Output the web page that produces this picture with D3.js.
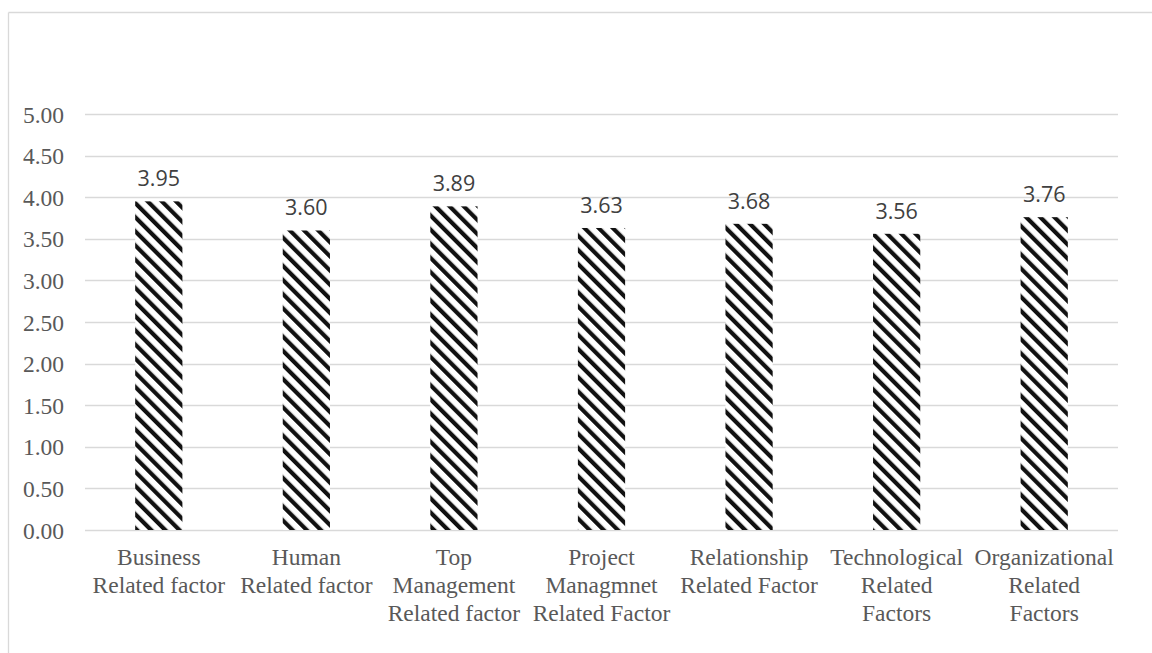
<!DOCTYPE html>
<html>
<head>
<meta charset="utf-8">
<script src="https://cdn.jsdelivr.net/npm/d3@7"></script>
<style>
  body { margin: 0; background: #fff; }
  svg { display: block; }
  .serif { font-family: "Liberation Serif", "DejaVu Serif", "Times New Roman", Times, serif; }
</style>
</head>
<body>
<svg class="canvas" width="1152" height="653"></svg>
<script>
// categories (line-broken as in the original) and mean scores
var categories = [
    ["Business", "Related factor"],
    ["Human", "Related factor"],
    ["Top", "Management", "Related factor"],
    ["Project", "Managmnet", "Related Factor"],
    ["Relationship", "Related Factor"],
    ["Technological", "Related", "Factors"],
    ["Organizational", "Related", "Factors"]
];
var values = [3.95, 3.60, 3.89, 3.63, 3.68, 3.56, 3.76];
var yTicks = [0, 0.5, 1, 1.5, 2, 2.5, 3, 3.5, 4, 4.5, 5];

var width = 1152;
var height = 653;
var textColor = "#595959";
var gridColor = "#d9d9d9";

var svg = d3.select(".canvas");

// hatch pattern
var defs = svg.append("defs");
var pat = defs.append("pattern")
    .attr("id", "hatch")
    .attr("patternUnits", "userSpaceOnUse")
    .attr("width", 10)
    .attr("height", 10)
    .attr("patternTransform", "rotate(-45)");
pat.append("rect").attr("width", 10).attr("height", 10).attr("fill", "#fff");
pat.append("rect").attr("width", 4.2).attr("height", 10).attr("fill", "#111");

// chart frame (only top and left edges visible)
svg.append("line")
    .attr("x1", 8.5).attr("y1", 12.5).attr("x2", width).attr("y2", 12.5)
    .attr("stroke", gridColor).attr("stroke-width", 1.3);
svg.append("line")
    .attr("x1", 8.5).attr("y1", 12.5).attr("x2", 8.5).attr("y2", height)
    .attr("stroke", gridColor).attr("stroke-width", 1.3);

var x = d3.scaleBand()
    .domain(d3.range(categories.length))
    .range([85, 1118])
    .paddingInner(0.68)
    .paddingOuter(0.34);

var y = d3.scaleLinear()
    .domain([0, 5])
    .range([530, 114]);

// gridlines
svg.append("g")
    .selectAll("line")
    .data(yTicks)
    .enter()
    .append("line")
        .attr("x1", 85)
        .attr("x2", 1118)
        .attr("y1", function(d) { return Math.round(y(d)) + 0.5; })
        .attr("y2", function(d) { return Math.round(y(d)) + 0.5; })
        .attr("stroke", gridColor)
        .attr("stroke-width", 1.5);

// y axis labels
var yAxis = d3.axisLeft(y)
    .tickValues(yTicks)
    .tickFormat(d3.format(".2f"))
    .tickSize(0)
    .tickPadding(0);

var yg = svg.append("g")
    .attr("transform", "translate(64,0)")
    .call(yAxis);
yg.select(".domain").remove();
yg.attr("font-family", null).attr("font-size", null);
yg.selectAll("text")
    .attr("class", "serif")
    .attr("fill", textColor)
    .attr("dy", "0.34em")
    .style("font-size", "23.5px");

// bars
svg.append("g")
    .selectAll("rect")
    .data(values)
    .enter()
    .append("rect")
        .attr("x", function(d, i) { return x(i); })
        .attr("y", function(d) { return y(d); })
        .attr("width", x.bandwidth())
        .attr("height", function(d) { return y(0) - y(d); })
        .attr("fill", "url(#hatch)");

// value labels
svg.append("g")
    .selectAll("text")
    .data(values)
    .enter()
    .append("text")
        .attr("x", function(d, i) { return x(i) + x.bandwidth() / 2; })
        .attr("y", function(d) { return y(d) - 15; })
        .attr("text-anchor", "middle")
        .attr("fill", "#404040")
        .style("font-family", "'Open Sans', sans-serif")
        .style("font-size", "21.5px")
        .text(function(d) { return d3.format(".2f")(d); });

// category labels
var xl = svg.append("g")
    .selectAll("text")
    .data(categories)
    .enter()
    .append("text")
        .attr("class", "serif")
        .attr("x", function(d, i) { return x(i) + x.bandwidth() / 2; })
        .attr("y", 565)
        .attr("text-anchor", "middle")
        .attr("fill", textColor)
        .style("font-size", "23.5px");

xl.selectAll("tspan")
    .data(function(d) { return d; })
    .enter()
    .append("tspan")
        .attr("x", function() { return d3.select(this.parentNode).attr("x"); })
        .attr("dy", function(d, i) { return i === 0 ? 0 : 28; })
        .text(function(d) { return d; });
</script>
</body>
</html>
